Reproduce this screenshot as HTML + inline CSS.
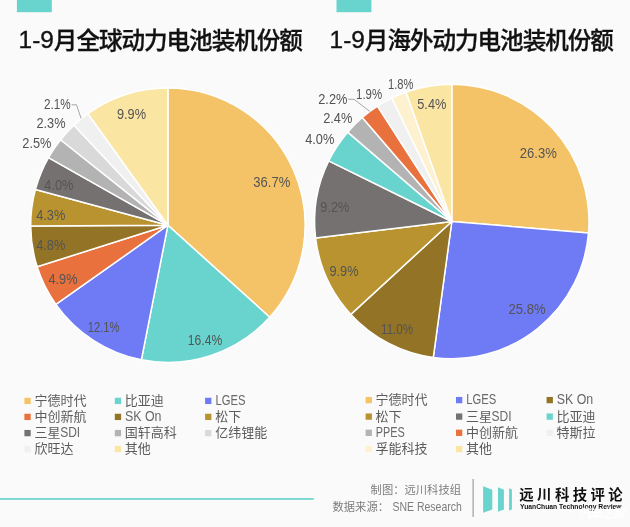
<!DOCTYPE html>
<html lang="zh-CN"><head><meta charset="utf-8"><title>1-9月动力电池装机份额</title>
<style>
html,body{margin:0;padding:0;background:#fafafa;}
body{width:630px;height:527px;overflow:hidden;position:relative;font-family:"Liberation Sans","Noto Sans CJK SC",sans-serif;}
svg{position:absolute;left:0;top:0;display:block}
text{font-family:"Liberation Sans","Noto Sans CJK SC",sans-serif;}
.ttl text{font-size:22.8px;font-weight:500;fill:#111;stroke:#111;stroke-width:0.3px;}
.ttl .dg{font-size:24.4px;stroke:#111;stroke-width:0.35px;}
.ttl .cj{font-size:23.6px;letter-spacing:-1.05px;}
.pct text{font-size:14.8px;fill:#545454;text-anchor:middle;}
.leg text{font-size:13px;fill:#5c5c5c;font-weight:400;}
.leg .la{font-size:14px;font-weight:400;fill:#686868;}
.ft text{font-size:11.3px;fill:#7d7d7d;text-anchor:end;font-weight:400;}
.ft .la{font-size:11.9px;font-weight:400;}
</style></head><body>
<svg width="630" height="527" viewBox="0 0 630 527">
<rect width="630" height="527" fill="#fafafa"/>
<rect x="16.9" y="0" width="34.9" height="12.2" fill="#68d4cd"/>
<rect x="336.5" y="0" width="34.9" height="12.2" fill="#68d4cd"/>
<g class="ttl"><text x="18.6" y="48.3"><tspan class="dg">1-9</tspan><tspan class="cj" dy="0.8">月全球动力电池装机份额</tspan></text><text x="329.6" y="48.3"><tspan class="dg">1-9</tspan><tspan class="cj" dy="0.8">月海外动力电池装机份额</tspan></text></g>
<g stroke="#fff" stroke-width="1.5" stroke-linejoin="round"><path d="M167.90 225.20L167.90 88.00A137.2 137.2 0 0 1 269.67 317.22Z" fill="#f5c367"/><path d="M167.90 225.20L269.67 317.22A137.2 137.2 0 0 1 141.35 359.81Z" fill="#68d4cd"/><path d="M167.90 225.20L141.35 359.81A137.2 137.2 0 0 1 55.90 304.44Z" fill="#6f7af5"/><path d="M167.90 225.20L55.90 304.44A137.2 137.2 0 0 1 37.15 266.78Z" fill="#e8713d"/><path d="M167.90 225.20L37.15 266.78A137.2 137.2 0 0 1 30.70 226.06Z" fill="#937325"/><path d="M167.90 225.20L30.70 226.06A137.2 137.2 0 0 1 35.45 189.41Z" fill="#b8932f"/><path d="M167.90 225.20L35.45 189.41A137.2 137.2 0 0 1 48.51 157.60Z" fill="#767171"/><path d="M167.90 225.20L48.51 157.60A137.2 137.2 0 0 1 60.56 139.75Z" fill="#b3b3b3"/><path d="M167.90 225.20L60.56 139.75A137.2 137.2 0 0 1 73.98 125.19Z" fill="#d9d9d9"/><path d="M167.90 225.20L73.98 125.19A137.2 137.2 0 0 1 87.95 113.70Z" fill="#f0f0f0"/><path d="M167.90 225.20L87.95 113.70A137.2 137.2 0 0 1 167.90 88.00Z" fill="#fbe5a3"/></g>
<g stroke="#fff" stroke-width="1.5" stroke-linejoin="round"><path d="M451.80 221.50L451.80 84.30A137.2 137.2 0 0 1 588.52 232.92Z" fill="#f5c367"/><path d="M451.80 221.50L588.52 232.92A137.2 137.2 0 0 1 433.30 357.45Z" fill="#6f7af5"/><path d="M451.80 221.50L433.30 357.45A137.2 137.2 0 0 1 350.83 314.39Z" fill="#937325"/><path d="M451.80 221.50L350.83 314.39A137.2 137.2 0 0 1 315.60 238.07Z" fill="#b8932f"/><path d="M451.80 221.50L315.60 238.07A137.2 137.2 0 0 1 328.71 160.89Z" fill="#767171"/><path d="M451.80 221.50L328.71 160.89A137.2 137.2 0 0 1 347.68 132.16Z" fill="#68d4cd"/><path d="M451.80 221.50L347.68 132.16A137.2 137.2 0 0 1 362.29 117.52Z" fill="#b3b3b3"/><path d="M451.80 221.50L362.29 117.52A137.2 137.2 0 0 1 377.49 106.16Z" fill="#e8713d"/><path d="M451.80 221.50L377.49 106.16A137.2 137.2 0 0 1 391.77 98.13Z" fill="#f0f0f0"/><path d="M451.80 221.50L391.77 98.13A137.2 137.2 0 0 1 406.09 92.14Z" fill="#fdf1d0"/><path d="M451.80 221.50L406.09 92.14A137.2 137.2 0 0 1 451.80 84.30Z" fill="#fbe5a3"/></g>
<g fill="none" stroke="#9c9c9c" stroke-width="0.9"><path d="M71.7 104.8H76.5L81.1 118.5"/><path d="M348.2 99.3H354.1L369.8 111.4"/></g>
<g class="pct"><text x="271.8" y="187.1" textLength="37.0" lengthAdjust="spacingAndGlyphs">36.7%</text><text x="205" y="345.3" textLength="34.4" lengthAdjust="spacingAndGlyphs">16.4%</text><text x="103.6" y="332.0" textLength="31.9" lengthAdjust="spacingAndGlyphs">12.1%</text><text x="63" y="284.4" textLength="29.1" lengthAdjust="spacingAndGlyphs">4.9%</text><text x="50.7" y="250.1" textLength="29.1" lengthAdjust="spacingAndGlyphs">4.8%</text><text x="50.7" y="220.1" textLength="29.1" lengthAdjust="spacingAndGlyphs">4.3%</text><text x="58.9" y="190.4" textLength="29.1" lengthAdjust="spacingAndGlyphs">4.0%</text><text x="36.9" y="147.6" textLength="29.1" lengthAdjust="spacingAndGlyphs">2.5%</text><text x="51" y="127.5" textLength="29.1" lengthAdjust="spacingAndGlyphs">2.3%</text><text x="57.4" y="108.8" textLength="26.7" lengthAdjust="spacingAndGlyphs">2.1%</text><text x="131.5" y="118.6" textLength="29.1" lengthAdjust="spacingAndGlyphs">9.9%</text><text x="538.3" y="158.0" textLength="37.0" lengthAdjust="spacingAndGlyphs">26.3%</text><text x="527" y="313.8" textLength="37.0" lengthAdjust="spacingAndGlyphs">25.8%</text><text x="397.1" y="334.2" textLength="32.1" lengthAdjust="spacingAndGlyphs">11.0%</text><text x="344" y="275.6" textLength="29.1" lengthAdjust="spacingAndGlyphs">9.9%</text><text x="334.9" y="212.1" textLength="29.1" lengthAdjust="spacingAndGlyphs">9.2%</text><text x="319.7" y="144.1" textLength="29.1" lengthAdjust="spacingAndGlyphs">4.0%</text><text x="337.7" y="123.3" textLength="29.1" lengthAdjust="spacingAndGlyphs">2.4%</text><text x="332.8" y="103.5" textLength="29.1" lengthAdjust="spacingAndGlyphs">2.2%</text><text x="369.1" y="99.2" textLength="26.0" lengthAdjust="spacingAndGlyphs">1.9%</text><text x="400.7" y="89.0" textLength="25.4" lengthAdjust="spacingAndGlyphs">1.8%</text><text x="431.8" y="109.1" textLength="29.1" lengthAdjust="spacingAndGlyphs">5.4%</text></g>
<g class="leg"><rect x="24.4" y="397.75" width="6.3" height="6.3" fill="#f5c367"/><text x="34.6" y="404.80">宁德时代</text><rect x="114.8" y="397.75" width="6.3" height="6.3" fill="#68d4cd"/><text x="124.7" y="404.80">比亚迪</text><rect x="205.1" y="397.75" width="6.3" height="6.3" fill="#6f7af5"/><text class="la" x="215.50" y="404.80" textLength="30.0" lengthAdjust="spacingAndGlyphs">LGES</text><rect x="24.4" y="413.75" width="6.3" height="6.3" fill="#e8713d"/><text x="34.6" y="420.80">中创新航</text><rect x="114.8" y="413.75" width="6.3" height="6.3" fill="#937325"/><text class="la" x="125.00" y="420.80" textLength="36.5" lengthAdjust="spacingAndGlyphs">SK On</text><rect x="205.1" y="413.75" width="6.3" height="6.3" fill="#b8932f"/><text x="215.2" y="420.80">松下</text><rect x="24.4" y="429.95" width="6.3" height="6.3" fill="#767171"/><text x="34.6" y="437.00">三星</text><text class="la" x="60.20" y="437.00" textLength="20.0" lengthAdjust="spacingAndGlyphs">SDI</text><rect x="114.8" y="429.95" width="6.3" height="6.3" fill="#b3b3b3"/><text x="124.7" y="437.00">国轩高科</text><rect x="205.1" y="429.95" width="6.3" height="6.3" fill="#d9d9d9"/><text x="215.2" y="437.00">亿纬锂能</text><rect x="24.4" y="445.95" width="6.3" height="6.3" fill="#f0f0f0"/><text x="34.6" y="453.00">欣旺达</text><rect x="114.8" y="445.95" width="6.3" height="6.3" fill="#fbe5a3"/><text x="124.7" y="453.00">其他</text><rect x="365.6" y="396.95" width="6.3" height="6.3" fill="#f5c367"/><text x="375.4" y="404.00">宁德时代</text><rect x="456" y="396.95" width="6.3" height="6.3" fill="#6f7af5"/><text class="la" x="466.30" y="404.00" textLength="30.0" lengthAdjust="spacingAndGlyphs">LGES</text><rect x="546.6" y="396.95" width="6.3" height="6.3" fill="#937325"/><text class="la" x="556.70" y="404.00" textLength="36.5" lengthAdjust="spacingAndGlyphs">SK On</text><rect x="365.6" y="413.45" width="6.3" height="6.3" fill="#b8932f"/><text x="375.4" y="420.50">松下</text><rect x="456" y="413.45" width="6.3" height="6.3" fill="#767171"/><text x="466.0" y="420.50">三星</text><text class="la" x="491.60" y="420.50" textLength="20.0" lengthAdjust="spacingAndGlyphs">SDI</text><rect x="546.6" y="413.45" width="6.3" height="6.3" fill="#68d4cd"/><text x="556.4" y="420.50">比亚迪</text><rect x="365.6" y="429.65" width="6.3" height="6.3" fill="#b3b3b3"/><text class="la" x="375.70" y="436.70" textLength="29.0" lengthAdjust="spacingAndGlyphs">PPES</text><rect x="456" y="429.65" width="6.3" height="6.3" fill="#e8713d"/><text x="466.0" y="436.70">中创新航</text><rect x="546.6" y="429.65" width="6.3" height="6.3" fill="#f0f0f0"/><text x="556.4" y="436.70">特斯拉</text><rect x="365.6" y="445.95" width="6.3" height="6.3" fill="#fdf1d0"/><text x="375.4" y="453.00">孚能科技</text><rect x="456" y="445.95" width="6.3" height="6.3" fill="#fbe5a3"/><text x="466.0" y="453.00">其他</text></g>
<rect x="0" y="498.0" width="313.8" height="1.9" opacity="0.88" fill="#68d4cd"/>
<g class="ft"><text x="461" y="494.3">制图：远川科技组</text><text x="389" y="510.8">数据来源：</text><text class="la" x="461.9" y="510.8" textLength="69.5" lengthAdjust="spacingAndGlyphs">SNE Research</text></g>
<rect x="472.6" y="479" width="1" height="38" fill="#8c8c8c"/>
<g fill="#68d4cd"><path d="M483.1 486.3L492.3 489.7V509.4L483.1 512.7Z"/><path d="M498 487.3L503.9 489.7V509.5L498 511.7Z"/><path d="M509.1 488.3L511.9 489.5V509.5L509.1 510.6Z"/></g>
<text x="519.3" y="500.0" font-size="14.4" font-weight="700" fill="#111" letter-spacing="3.4">远川科技评论</text>
<text x="520" y="509.3" font-size="7.4" font-weight="700" fill="#111" textLength="101.6" lengthAdjust="spacingAndGlyphs">YuanChuan Technology Review</text>
<text x="578" y="517.5" font-size="13" font-weight="700" fill="#fff" opacity="0.8" font-style="italic" textLength="47">汽车之家</text>
</svg>
</body></html>
